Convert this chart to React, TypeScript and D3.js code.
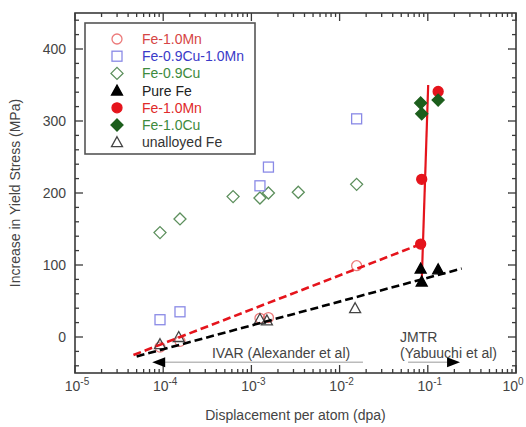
import React from "react";
import * as d3 from "d3";

// ---- data ----
const feMnOpenDpa = [9.2e-5, 1.55e-4, 1.25e-3, 1.56e-3, 1.56e-2];
const feMnOpenMpa = [-14, -6, 26, 27, 99];
const feCuMnDpa = [9.2e-5, 1.55e-4, 1.25e-3, 1.56e-3, 1.56e-2];
const feCuMnMpa = [24, 35, 210, 236, 303];
const feCuOpenDpa = [9.2e-5, 1.55e-4, 6.2e-4, 1.25e-3, 1.56e-3, 3.4e-3, 1.56e-2];
const feCuOpenMpa = [145, 164, 195, 193, 200, 201, 212];
const pureFeDpa = [0.083, 0.0853, 0.131];
const pureFeMpa = [95, 77, 94];
const feMnFilledDpa = [0.083, 0.0853, 0.131];
const feMnFilledMpa = [129, 219, 341];
const feCuFilledDpa = [0.083, 0.0853, 0.131];
const feCuFilledMpa = [325, 310, 329];
const unalloyedDpa = [9.2e-5, 1.5e-4, 1.25e-3, 1.5e-3, 1.5e-2];
const unalloyedMpa = [-10, 0, 25, 23, 40];

const redFitDpa = [4.6e-5, 0.083];
const redFitMpa = [-25, 129];
const redVertDpa = [0.0853, 0.101];
const redVertMpa = [77, 350];
const blackFitDpa = [5e-5, 0.242];
const blackFitMpa = [-27, 95];

const xMajorTicks = [1e-5, 1e-4, 1e-3, 1e-2, 1e-1, 1];
const xTickExps = ["-5", "-4", "-3", "-2", "-1", "0"];
const yMajorTicks = [0, 100, 200, 300, 400];

const legendLabels = [
  "Fe-1.0Mn",
  "Fe-0.9Cu-1.0Mn",
  "Fe-0.9Cu",
  "Pure Fe",
  "Fe-1.0Mn",
  "Fe-1.0Cu",
  "unalloyed Fe",
];

const W = 526;
const H = 427;
const L = 75, R = 516, T = 13, B = 373;

const x = d3.scaleLog().domain([1e-5, 1]).range([L, R]);
const y = d3.scaleLinear().domain([-50, 450]).range([B, T]);

type Kind = "circleOpen" | "square" | "diamondOpen" | "triFilled" | "circleFilled" | "diamondFilled" | "triOpen";

const styles: Record<Kind, { stroke: string; fill: string; text: string }> = {
  circleOpen: { stroke: "#ec7a7a", fill: "none", text: "#d64545" },
  square: { stroke: "#8a8ae6", fill: "none", text: "#3a3ac8" },
  diamondOpen: { stroke: "#5c8f5c", fill: "none", text: "#3d8a3d" },
  triFilled: { stroke: "#000", fill: "#000", text: "#222" },
  circleFilled: { stroke: "#e5141c", fill: "#e5141c", text: "#e02a2a" },
  diamondFilled: { stroke: "#1c5e1c", fill: "#1c5e1c", text: "#3d8a3d" },
  triOpen: { stroke: "#444", fill: "none", text: "#333" },
};
const kinds: Kind[] = ["circleOpen", "square", "diamondOpen", "triFilled", "circleFilled", "diamondFilled", "triOpen"];

function Marker({ kind, cx, cy }: { kind: Kind; cx: number; cy: number }) {
  const s = styles[kind];
  const sw = 1.3;
  switch (kind) {
    case "circleOpen":
    case "circleFilled":
      return <circle cx={cx} cy={cy} r={5} fill={s.fill} stroke={s.stroke} strokeWidth={sw} />;
    case "square":
      return <rect x={cx - 5} y={cy - 5} width={10} height={10} fill={s.fill} stroke={s.stroke} strokeWidth={sw} />;
    case "diamondOpen":
    case "diamondFilled":
      return (
        <path d={`M${cx},${cy - 6}L${cx + 6},${cy}L${cx},${cy + 6}L${cx - 6},${cy}Z`} fill={s.fill} stroke={s.stroke} strokeWidth={sw} />
      );
    case "triFilled":
    case "triOpen":
      return (
        <path d={`M${cx},${cy - 5.5}L${cx + 5.5},${cy + 4.5}L${cx - 5.5},${cy + 4.5}Z`} fill={s.fill} stroke={s.stroke} strokeWidth={sw} />
      );
  }
  return null;
}

function Series({ kind, xs, ys }: { kind: Kind; xs: number[]; ys: number[] }) {
  return (
    <g>
      {xs.map((d, i) => (
        <Marker key={i} kind={kind} cx={x(d)} cy={y(ys[i])} />
      ))}
    </g>
  );
}

const line = d3
  .line<[number, number]>()
  .x((d) => x(d[0]))
  .y((d) => y(d[1]));
const pts = (xs: number[], ys: number[]) => xs.map((d, i) => [d, ys[i]] as [number, number]);

export default function App() {
  const axisColor = "#3a3a3a";
  const labelColor = "#444";
  const font = "'Liberation Sans', Arial, sans-serif";

  const xMinor: number[] = [];
  for (let e = -5; e < 0; e++) for (let m = 2; m <= 9; m++) xMinor.push(m * Math.pow(10, e));
  const yMinor: number[] = d3.range(-40, 451, 20).filter((v) => v % 100 !== 0);

  const arrowY = y(-35);
  const ivarTip = x(7.5e-5), ivarEnd = x(0.0184);
  const jmtrStart = x(0.0597), jmtrTip = x(0.232);

  return (
    <svg width={W} height={H} style={{ position: "absolute", left: 0, top: 0, background: "#fff" }} fontFamily={font}>
      {/* ticks */}
      <g stroke={axisColor} strokeWidth={1.3}>
        {xMajorTicks.map((t, i) => (
          <g key={"xm" + i}>
            <line x1={x(t)} x2={x(t)} y1={B} y2={B - 8} />
            <line x1={x(t)} x2={x(t)} y1={T} y2={T + 8} />
          </g>
        ))}
        {xMinor.map((t, i) => (
          <g key={"xn" + i}>
            <line x1={x(t)} x2={x(t)} y1={B} y2={B - 4} />
            <line x1={x(t)} x2={x(t)} y1={T} y2={T + 4} />
          </g>
        ))}
        {yMajorTicks.map((t, i) => (
          <g key={"ym" + i}>
            <line x1={L} x2={L + 8} y1={y(t)} y2={y(t)} />
            <line x1={R} x2={R - 8} y1={y(t)} y2={y(t)} />
          </g>
        ))}
        {yMinor.map((t, i) => (
          <g key={"yn" + i}>
            <line x1={L} x2={L + 4} y1={y(t)} y2={y(t)} />
            <line x1={R} x2={R - 4} y1={y(t)} y2={y(t)} />
          </g>
        ))}
      </g>
      <rect x={L} y={T} width={R - L} height={B - T} fill="none" stroke={axisColor} strokeWidth={1.6} />

      {/* tick labels */}
      <g fill={labelColor} fontSize={14}>
        {yMajorTicks.map((t, i) => (
          <text key={i} x={L - 9} y={y(t) + 5} textAnchor="end">
            {t}
          </text>
        ))}
        {xMajorTicks.map((t, i) => (
          <text key={i} x={Math.min(x(t) + 2, W - 13)} y={B + 18} textAnchor="middle">
            10
            <tspan fontSize={10} dy={-6}>
              {xTickExps[i]}
            </tspan>
          </text>
        ))}
      </g>

      {/* axis titles */}
      <text x={(L + R) / 2} y={B + 47} textAnchor="middle" fontSize={14} fill={labelColor}>
        Displacement per atom (dpa)
      </text>
      <text transform={`translate(20,${(T + B) / 2}) rotate(-90)`} textAnchor="middle" fontSize={14} fill={labelColor}>
        Increase in Yield Stress (MPa)
      </text>

      {/* annotations */}
      <g>
        <line x1={ivarTip + 10} x2={ivarEnd} y1={arrowY} y2={arrowY} stroke="#bbb" strokeWidth={1.5} />
        <path d={`M${ivarTip},${arrowY}L${ivarTip + 13},${arrowY - 5}L${ivarTip + 13},${arrowY + 5}Z`} fill="#000" />
        <line x1={jmtrStart} x2={jmtrTip - 10} y1={arrowY} y2={arrowY} stroke="#bbb" strokeWidth={1.5} />
        <path d={`M${jmtrTip},${arrowY}L${jmtrTip - 13},${arrowY - 5}L${jmtrTip - 13},${arrowY + 5}Z`} fill="#000" />
        <text x={x(3.57e-4)} y={y(-29)} fontSize={14} fill={labelColor}>
          IVAR (Alexander et al)
        </text>
        <text x={x(0.0484)} y={y(-7)} fontSize={14} fill={labelColor}>
          JMTR
        </text>
        <text x={x(0.0484)} y={y(-29)} fontSize={14} fill={labelColor}>
          (Yabuuchi et al)
        </text>
      </g>

      {/* open markers */}
      <Series kind="diamondOpen" xs={feCuOpenDpa} ys={feCuOpenMpa} />
      <Series kind="square" xs={feCuMnDpa} ys={feCuMnMpa} />
      <Series kind="circleOpen" xs={feMnOpenDpa} ys={feMnOpenMpa} />
      <Series kind="triOpen" xs={unalloyedDpa} ys={unalloyedMpa} />

      {/* fit lines */}
      <path d={line(pts(redFitDpa, redFitMpa)) || ""} stroke="#e5141c" strokeWidth={2.6} strokeDasharray="8,4" fill="none" />
      <path d={line(pts(blackFitDpa, blackFitMpa)) || ""} stroke="#000" strokeWidth={2.6} strokeDasharray="8,4" fill="none" />
      <path d={line(pts(redVertDpa, redVertMpa)) || ""} stroke="#e5141c" strokeWidth={2.2} fill="none" />

      {/* filled markers */}
      <Series kind="triFilled" xs={pureFeDpa} ys={pureFeMpa} />
      <Series kind="circleFilled" xs={feMnFilledDpa} ys={feMnFilledMpa} />
      <Series kind="diamondFilled" xs={feCuFilledDpa} ys={feCuFilledMpa} />

      {/* legend */}
      <rect x={85} y={23} width={170} height={131} fill="#fff" stroke="#555" strokeWidth={1.6} />
      {legendLabels.map((lab, i) => {
        const ly = 39 + i * 17.2;
        const k = kinds[i];
        return (
          <g key={i}>
            <Marker kind={k} cx={117} cy={ly} />
            <text x={142} y={ly + 5} fontSize={14} fill={styles[k].text}>
              {lab}
            </text>
          </g>
        );
      })}
    </svg>
  );
}
